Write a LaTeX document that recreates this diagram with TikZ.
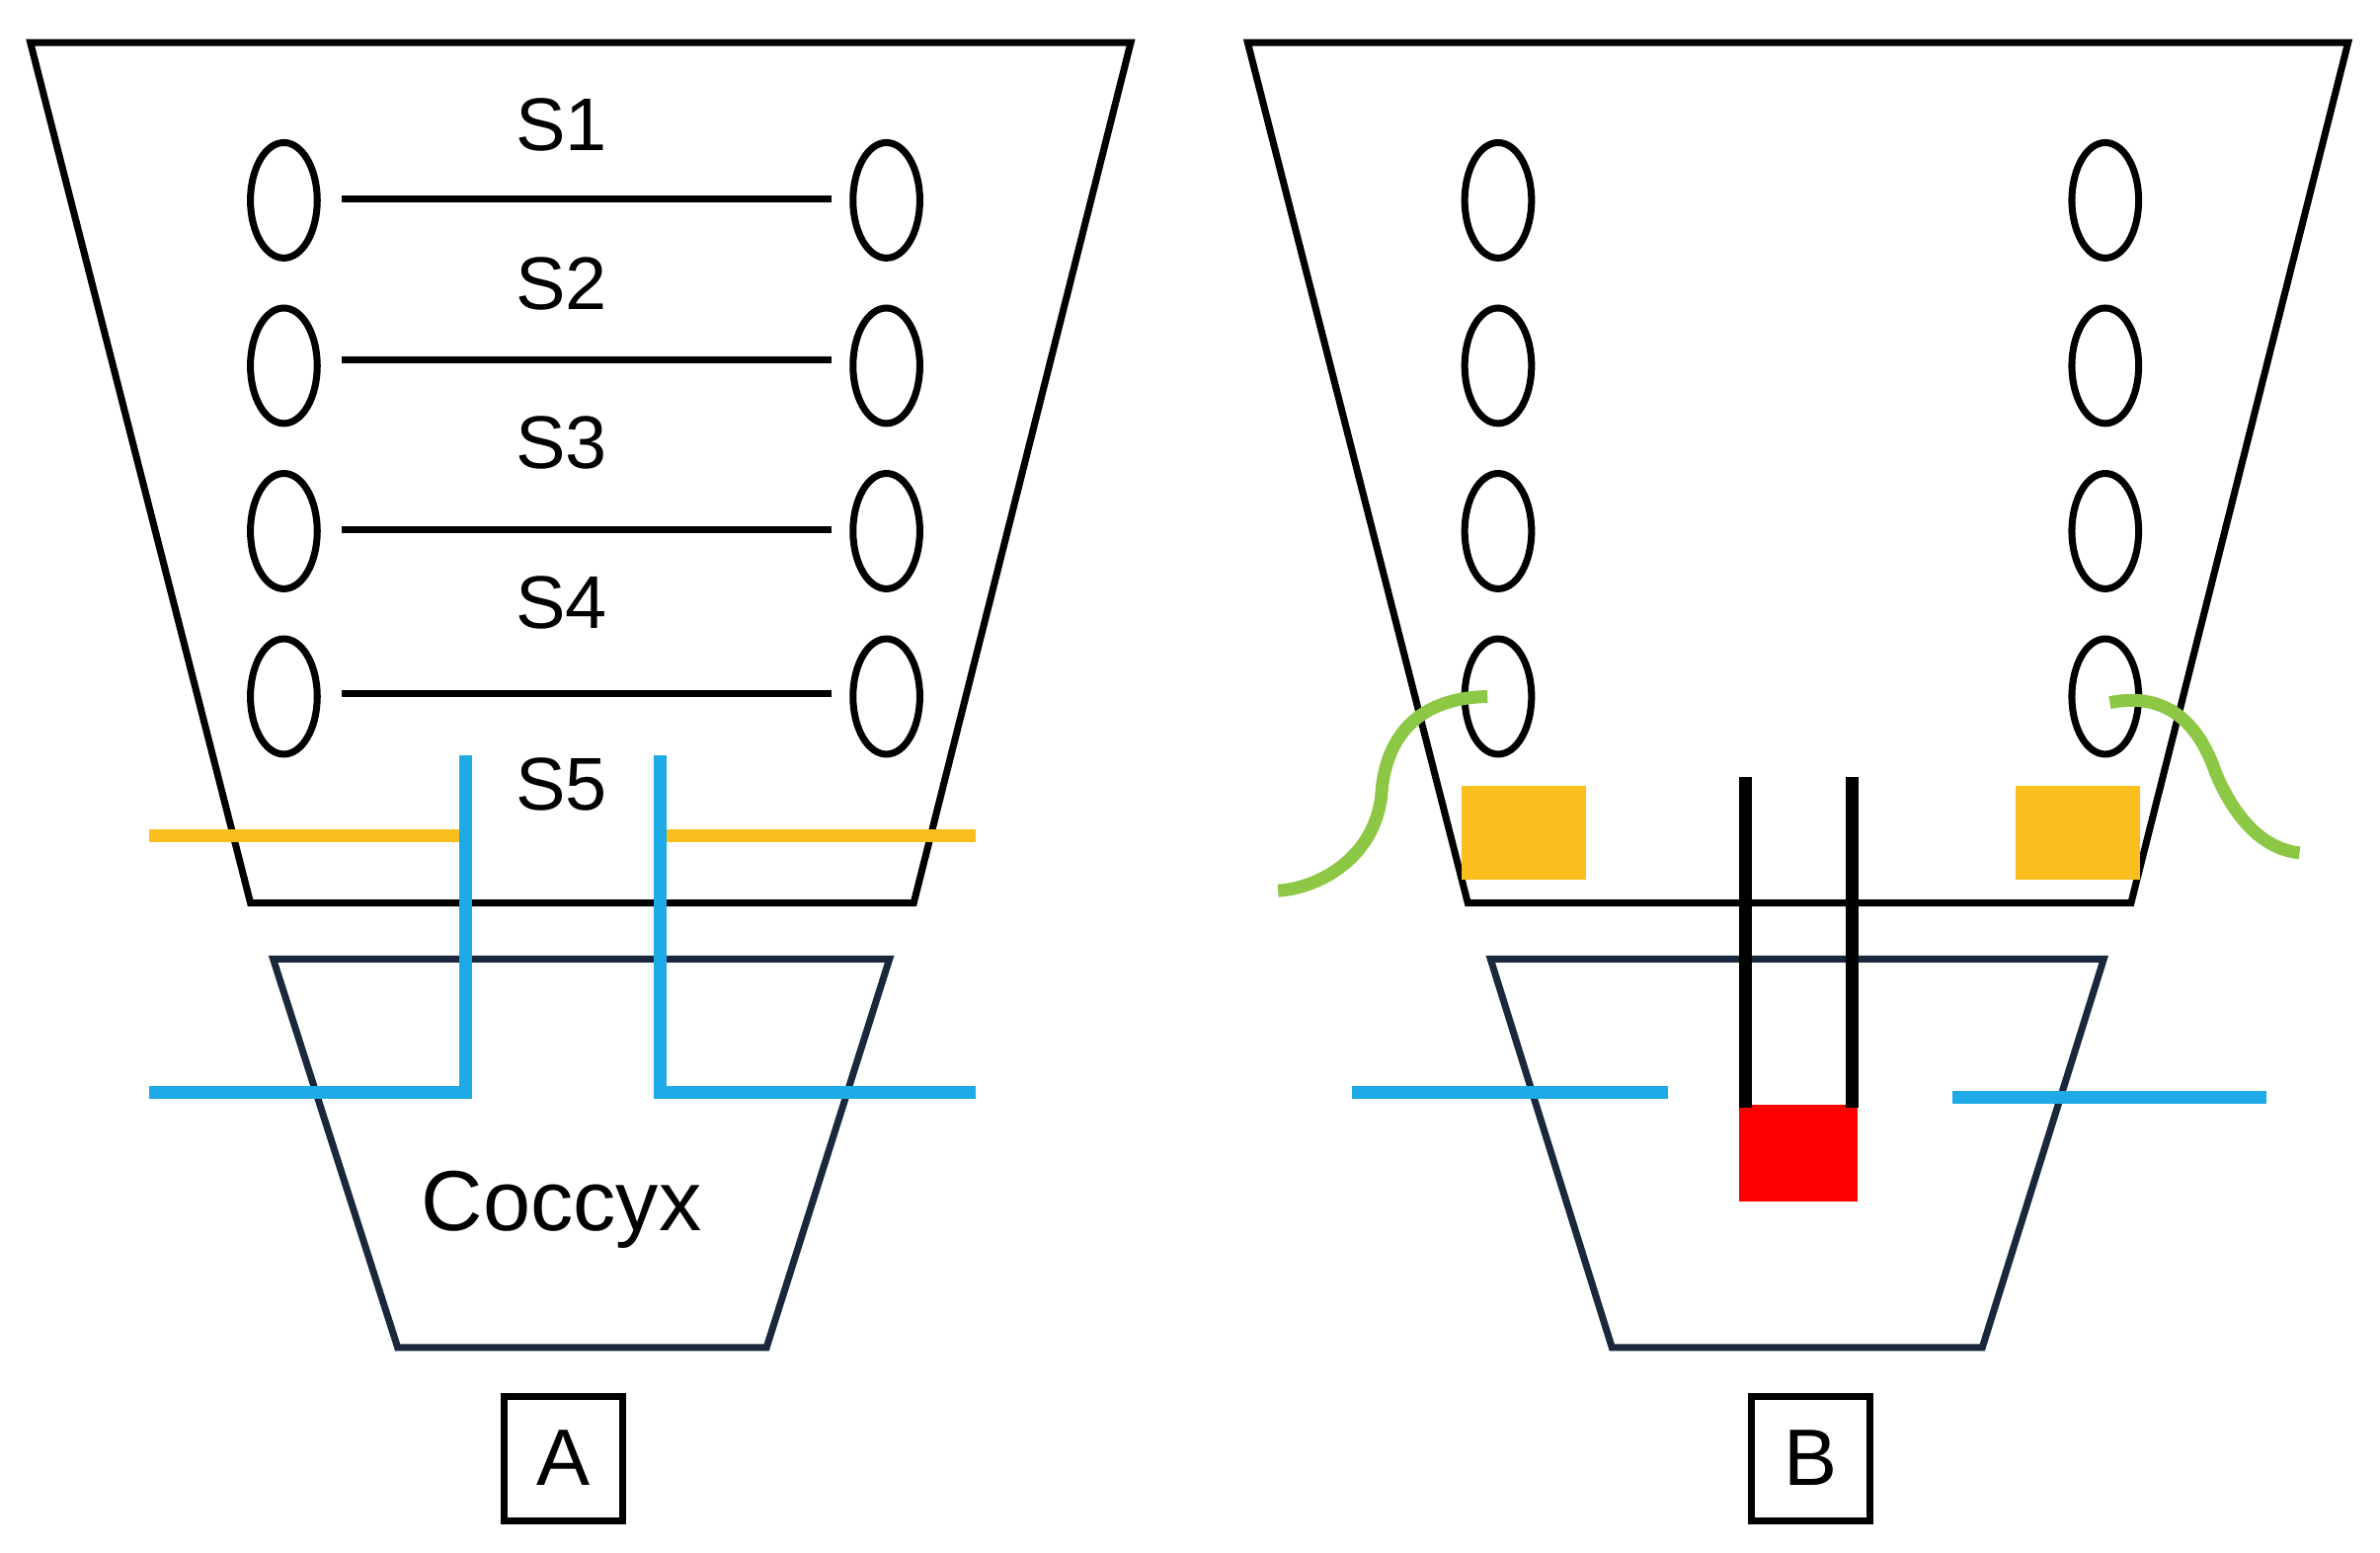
\documentclass[tikz,border=0pt]{standalone}
\usepackage{fontspec}
\setmainfont{Liberation Sans}
\usetikzlibrary{shapes.geometric}
\definecolor{cblue}{RGB}{30,170,230}
\definecolor{corng}{RGB}{250,190,30}
\definecolor{cgrn}{RGB}{140,200,70}
\definecolor{cnavy}{RGB}{25,40,60}
\begin{document}
\begin{tikzpicture}[x=0.01cm,y=-0.01cm,line width=1.3pt,
 ell/.style={draw,ellipse,minimum width=0.44cm,minimum height=0.76cm,inner sep=0pt},
 lab/.style={font=\fontsize{14}{16}\selectfont},
 box/.style={draw,minimum width=0.78cm,minimum height=0.82cm,font=\fontsize{15}{17}\selectfont},
 blue/.style={draw=cblue,line width=2.4pt},
 orng/.style={draw=corng,line width=2.4pt},
 grn/.style={draw=cgrn,line width=2.4pt},
 navy/.style={draw=cnavy}]
\useasboundingbox (0,0) rectangle (1568,1023);
% Panel A
\draw (20,28) -- (745,28) -- (602,595) -- (165,595) -- cycle;
\foreach \y [count=\i] in {132,241,350,459}{
  \node[ell] (la\i) at (187,\y) {};
  \node[ell] (ra\i) at (584,\y) {};
}
\foreach \y in {131,237,349,457} \draw (225,\y) -- (548,\y);
\node[lab] (s1) at (370,82) {S1};
\node[lab] (s2) at (370,187) {S2};
\node[lab] (s3) at (370,292) {S3};
\node[lab] (s4) at (370,397) {S4};
\node[lab] (s5) at (370,517) {S5};
\draw[navy] (180,632) -- (586,632) -- (505,888) -- (262,888) -- cycle;
\node[font=\fontsize{16}{18}\selectfont] (cx) at (370,797) {Coccyx};
\draw[orng] (98,551) -- (307,551);
\draw[orng] (435,551) -- (643,551);
\draw[blue] (307,498) -- (307,720) -- (98,720);
\draw[blue] (435,498) -- (435,720) -- (643,720);
\node[box] (A) at (371,961) {A};
% Panel B
\draw (822,28) -- (1547,28) -- (1404,595) -- (967,595) -- cycle;
\foreach \y [count=\i] in {132,241,350,459}{
  \node[ell] (lb\i) at (987,\y) {};
  \node[ell] (rb\i) at (1387,\y) {};
}
\draw[navy] (982,632) -- (1386,632) -- (1306,888) -- (1062,888) -- cycle;
\fill[corng] (963,518) rectangle (1045,580);
\fill[corng] (1328,518) rectangle (1410,580);
\fill[red] (1146,728) rectangle (1224,792);
\draw[line width=2.4pt] (1150,512) -- (1150,730);
\draw[line width=2.4pt] (1220,512) -- (1220,730);
\draw[blue] (891,720) -- (1099,720);
\draw[blue] (1286,723) -- (1493,723);
\draw[grn] (980,459) .. controls (930,460) and (912,490) .. (910,525) .. controls (905,565) and (870,585) .. (842,587);
\draw[grn] (1390,463) .. controls (1430,455) and (1450,480) .. (1460,510) .. controls (1475,545) and (1495,560) .. (1515,562);
\node[box] (B) at (1193,961) {B};
\end{tikzpicture}
\end{document}
